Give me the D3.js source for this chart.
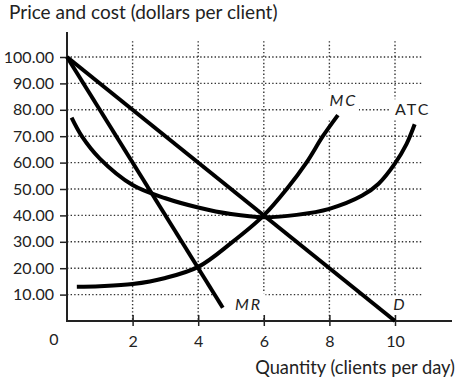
<!DOCTYPE html>
<html><head><meta charset="utf-8">
<script src="https://cdn.jsdelivr.net/npm/d3@7"></script>
<style>
html,body{margin:0;padding:0;background:#fff;}
svg{display:block;}
text{font-family:Lato,"Open Sans",sans-serif;fill:#222;}
</style></head>
<body>
<svg id="chart" width="459" height="380"></svg>
<script>
// ---- data ----
const yTicks = [10,20,30,40,50,60,70,80,90,100];
const xTicks = [2,4,6,8,10];
const demand = [[0,100],[10,0]];
const mr = [[0,100],[4.75,5]];
const mcQ = [0.3, 1, 2, 3, 4, 5, 6, 6.7, 7.3, 7.8, 8.26];
const mcP = [13, 13.2, 14, 16.3, 20.5, 29.5, 40, 50, 60, 70, 78];
const atcQ = [0.14, 0.45, 1, 2, 3, 4, 5, 6, 7, 8, 9, 9.5, 10, 10.35, 10.6];
const atcP = [77, 70, 61.5, 51.5, 46.5, 43, 40.5, 39.3, 40.2, 42.5, 47.5, 52, 59.7, 67, 74.5];
const curveLabels = [
  {text:"MC", q:8.0, p:81.5, italic:true},
  {text:"ATC", q:10.0, p:78.0, italic:false},
  {text:"MR", q:5.12, p:4.2, italic:true},
  {text:"D", q:9.95, p:4.2, italic:true}
];

const svg = d3.select("#chart");
const x = d3.scaleLinear().domain([0,10]).range([67,395]);
const y = d3.scaleLinear().domain([0,100]).range([321,57]);

// gridlines
const grid = svg.append("g").attr("stroke","#333").attr("stroke-width",1.4).attr("stroke-dasharray","1.4,2.2");
grid.selectAll("line.h").data(yTicks).join("line")
  .attr("x1",x(0)).attr("x2",x(10.83)).attr("y1",d=>y(d)).attr("y2",d=>y(d));
grid.selectAll("line.v").data(xTicks).join("line")
  .attr("x1",d=>x(d)).attr("x2",d=>x(d)).attr("y1",y(106)).attr("y2",y(0));

// label backgrounds (gaps in grid)
const bg = svg.append("g").attr("fill","#fff");
bg.append("rect").attr("x",x(4.5)).attr("y",y(10.5)).attr("width",x(6.05)-x(4.5)).attr("height",y(2)-y(10.5));
bg.append("rect").attr("x",x(9.75)).attr("y",y(9.5)).attr("width",x(10.2)-x(9.75)).attr("height",y(2)-y(9.5));
bg.append("rect").attr("x",x(7.8)).attr("y",y(88)).attr("width",x(8.9)-x(7.8)).attr("height",y(76)-y(88));
bg.append("rect").attr("x",x(9.85)).attr("y",y(84)).attr("width",x(11.2)-x(9.85)).attr("height",y(76)-y(84));

// axes
const yAxis = d3.axisLeft(y).tickValues(yTicks).tickFormat(d3.format(".2f")).tickSize(7).tickPadding(7);
const gy = svg.append("g").attr("transform",`translate(${x(0)},0)`).call(yAxis);
gy.select(".domain").remove();
gy.selectAll(".tick line").attr("x1",1).attr("stroke","#222").attr("stroke-width",1.5);
gy.selectAll(".tick text").attr("font-size",16).attr("font-family","Lato,sans-serif").attr("fill","#222").attr("x",-13);

const xAxis = d3.axisBottom(x).tickValues(xTicks).tickFormat(d3.format("d")).tickSize(5).tickPadding(10);
const gx = svg.append("g").attr("transform",`translate(0,${y(0)})`).call(xAxis);
gx.select(".domain").remove();
gx.selectAll(".tick line").attr("y1",-6).attr("stroke","#222").attr("stroke-width",1.5);
gx.selectAll(".tick text").attr("font-size",16).attr("font-family","Lato,sans-serif").attr("fill","#222");

svg.append("line").attr("x1",x(0)).attr("x2",x(0)).attr("y1",32).attr("y2",y(0)+1).attr("stroke","#222").attr("stroke-width",2);
svg.append("line").attr("x1",x(0)-1).attr("x2",452).attr("y1",y(0)).attr("y2",y(0)).attr("stroke","#222").attr("stroke-width",2.2);

svg.append("text").attr("x",54).attr("y",345).attr("text-anchor","middle").attr("font-size",16).text("0");

// curves
const line = d3.line().x(d=>x(d[0])).y(d=>y(d[1]));
const lineSmooth = d3.line().x(d=>x(d[0])).y(d=>y(d[1])).curve(d3.curveCatmullRom.alpha(0.5));
const curves = svg.append("g").attr("fill","none").attr("stroke","#000").attr("stroke-width",4);
curves.append("path").attr("d",line(demand));
curves.append("path").attr("d",line(mr));
curves.append("path").attr("d",lineSmooth(mcQ.map((q,i)=>[q,mcP[i]])));
curves.append("path").attr("d",lineSmooth(atcQ.map((q,i)=>[q,atcP[i]])));

// curve labels
svg.selectAll("text.cl").data(curveLabels).join("text")
  .attr("class","cl")
  .attr("x",d=>x(d.q)).attr("y",d=>y(d.p))
  .attr("font-size",16).attr("letter-spacing",2)
  .attr("font-style",d=>d.italic?"italic":"normal")
  .text(d=>d.text);

// axis titles
svg.append("text").attr("x",9).attr("y",19).attr("font-size",19).text("Price and cost (dollars per client)");
svg.append("text").attr("x",455).attr("y",374).attr("text-anchor","end").attr("font-size",18.3).text("Quantity (clients per day)");
</script>
</body></html>
